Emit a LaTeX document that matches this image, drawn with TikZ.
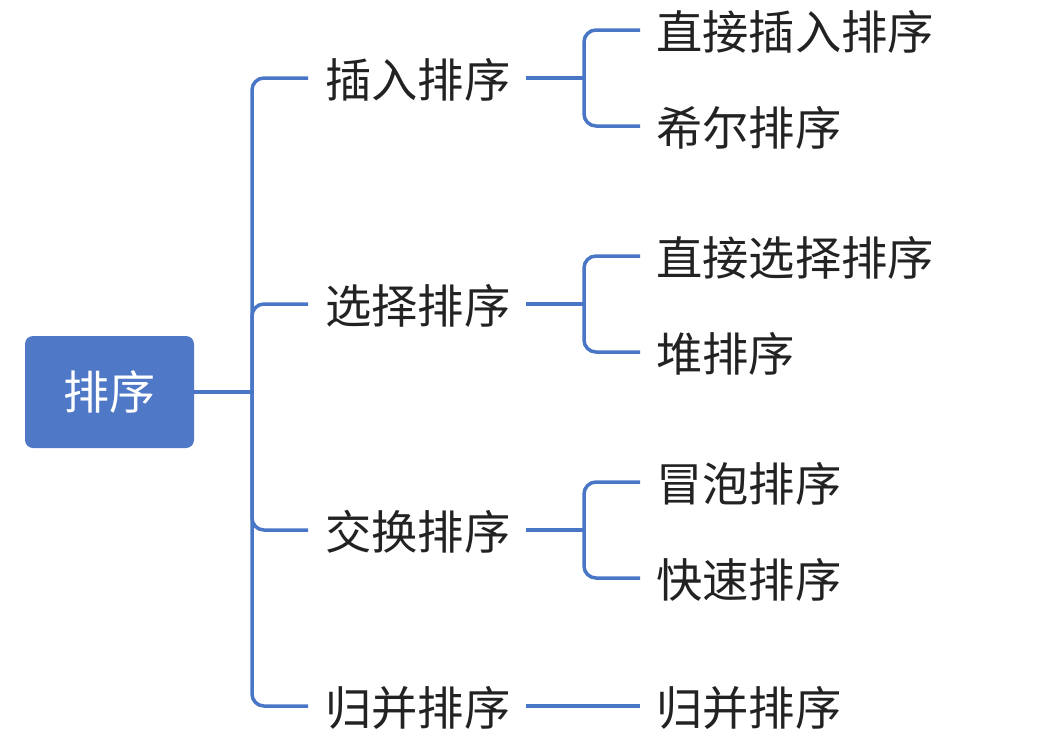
\documentclass[tikz,border=0pt]{standalone}
\usepackage{fontspec}
\setmainfont{Noto Sans CJK SC}
\definecolor{linec}{HTML}{4A76C6}
\definecolor{boxc}{HTML}{4F78C6}
\definecolor{txtc}{HTML}{222222}
\begin{document}
\begin{tikzpicture}[x=1pt,y=-1pt,
  conn/.style={draw=linec,line width=3.5pt,rounded corners=12pt},
  lab/.style={inner sep=0pt,anchor=west,text=txtc,font=\fontsize{46.3}{54}\selectfont},
  rootbox/.style={fill=boxc,rounded corners=8pt,minimum width=169pt,minimum height=112pt,text=white,font=\fontsize{46}{54}\selectfont,inner sep=0pt}]
\useasboundingbox (0,0) rectangle (1054,755);
\node[rootbox] (root) at (109.5,392) {排序};
% level 1
\node[lab] (a) at (325,80) {插入排序};
\node[lab] (b) at (325,306) {选择排序};
\node[lab] (c) at (325,532) {交换排序};
\node[lab] (d) at (325,708) {归并排序};
% level 2
\node[lab] (a1) at (656,32) {直接插入排序};
\node[lab] (a2) at (656,128) {希尔排序};
\node[lab] (b1) at (656,258) {直接选择排序};
\node[lab] (b2) at (656,354) {堆排序};
\node[lab] (c1) at (656,484) {冒泡排序};
\node[lab] (c2) at (656,580) {快速排序};
\node[lab] (d1) at (656,708) {归并排序};
% junctions
\coordinate (tr) at (252,392);
\coordinate (ta) at (308,78);
\coordinate (tb) at (308,304);
\coordinate (tc) at (308,530);
\coordinate (td) at (308,706);
\coordinate (ja) at (584,78);
\coordinate (jb) at (584,304);
\coordinate (jc) at (584,530);
\coordinate (ea) at (526,78);
\coordinate (eb) at (526,304);
\coordinate (ec) at (526,530);
\coordinate (ed) at (526,706);
\coordinate (pa1) at (640,30);
\coordinate (pa2) at (640,126);
\coordinate (pb1) at (640,256);
\coordinate (pb2) at (640,352);
\coordinate (pc1) at (640,482);
\coordinate (pc2) at (640,578);
\coordinate (pd1) at (640,706);
\draw[conn] (root.east) -- (tr);
\draw[conn] (tr) |- (ta);
\draw[conn] (tr) |- (tb);
\draw[conn] (tr) |- (tc);
\draw[conn] (tr) |- (td);
\draw[conn] (ea) -- (ja);
\draw[conn] (ja) |- (pa1);
\draw[conn] (ja) |- (pa2);
\draw[conn] (eb) -- (jb);
\draw[conn] (jb) |- (pb1);
\draw[conn] (jb) |- (pb2);
\draw[conn] (ec) -- (jc);
\draw[conn] (jc) |- (pc1);
\draw[conn] (jc) |- (pc2);
\draw[conn] (ed) -- (pd1);
\end{tikzpicture}
\end{document}
